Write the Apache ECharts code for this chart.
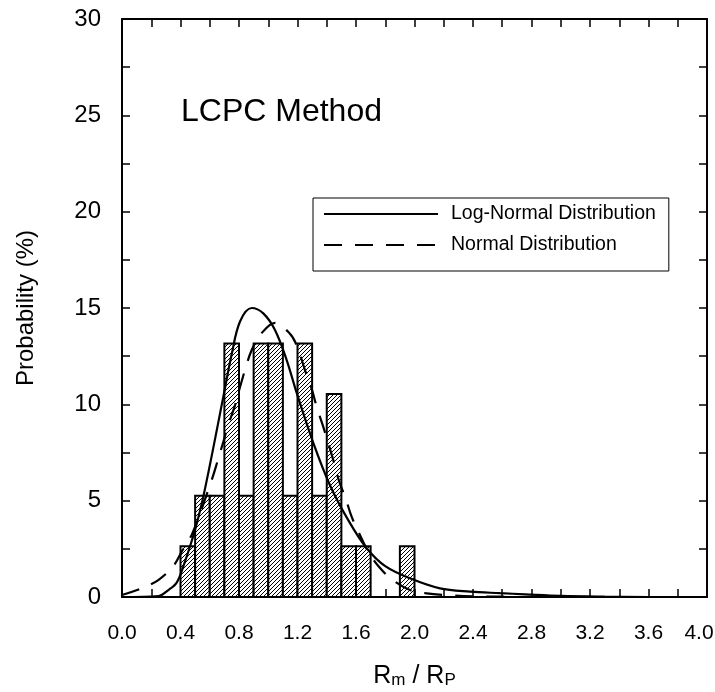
<!DOCTYPE html>
<html><head><meta charset="utf-8">
<script src="https://cdn.jsdelivr.net/npm/echarts@6/dist/echarts.min.js"></script>
<style>html,body{margin:0;padding:0;background:#fff}#c{width:715px;height:692px}</style>
</head><body><div id="c"></div>
<script>
// Histogram bins (left edges, width 0.1) and probabilities (%)
const binStarts = [0.4, 0.5, 0.6, 0.7, 0.8, 0.9, 1.0, 1.1, 1.2, 1.3, 1.4, 1.5, 1.6, 1.9];
const binWidth = 0.1;
const binProb = [2.63, 5.26, 5.26, 13.16, 5.26, 13.16, 13.16, 5.26, 13.16, 5.26, 10.53, 2.63, 2.63, 2.63];

// Log-normal curve
const logNormalX = [0, 0.25, 0.317, 0.374, 0.42, 0.5, 0.567, 0.693, 0.75, 0.807, 0.887, 0.966, 1.046, 1.126, 1.194, 1.308, 1.422, 1.55, 1.673, 1.8, 1.969, 2.174, 2.38, 2.585, 2.756, 3.0, 3.3, 3.6];
const logNormalY = [0, 0.05, 0.36, 0.75, 1.6, 3.5, 5.6, 10.4, 12.6, 14.3, 15.0, 14.72, 13.86, 12.3, 10.6, 8.0, 5.8, 3.95, 2.53, 1.6, 0.97, 0.45, 0.28, 0.2, 0.14, 0.06, 0.02, 0];

// Normal curve
const normalX = [0.0, 0.134, 0.248, 0.351, 0.408, 0.481, 0.613, 0.652, 0.693, 0.727, 0.773, 0.807, 0.841, 0.887, 0.955, 1.046, 1.144, 1.194, 1.251, 1.296, 1.331, 1.372, 1.411, 1.45, 1.486, 1.529, 1.57, 1.627, 1.684, 1.76, 1.844, 1.969, 2.083, 2.22, 2.4, 2.7];
const normalY = [0.1, 0.45, 0.88, 1.61, 2.35, 3.3, 6.07, 7.02, 8.06, 8.93, 9.96, 10.9, 11.78, 12.82, 13.7, 14.23, 13.7, 13.08, 11.78, 10.83, 9.88, 8.93, 7.97, 6.97, 5.98, 5.12, 4.17, 3.22, 2.35, 1.54, 0.92, 0.36, 0.19, 0.1, 0.04, 0.01];

const xMin = 0, xMax = 4, xInterval = 0.4;
const yMin = 0, yMax = 30, yInterval = 5;

const seriesNames = ['Log-Normal Distribution', 'Normal Distribution'];
const titleText = 'LCPC Method';

function hatchCanvas() {
  const c = document.createElement('canvas');
  c.width = 4; c.height = 4;
  const g = c.getContext('2d');
  g.fillStyle = '#fff'; g.fillRect(0, 0, 4, 4);
  g.strokeStyle = '#000'; g.lineWidth = 1;
  g.beginPath();
  g.moveTo(-1, 5); g.lineTo(5, -1);
  g.moveTo(-1, 1); g.lineTo(1, -1);
  g.moveTo(3, 5); g.lineTo(5, 3);
  g.stroke();
  return c;
}
const hatch = hatchCanvas();

const FONT = 'Liberation Sans, Arial, sans-serif';
const chart = echarts.init(document.getElementById('c'), null, {renderer: 'canvas'});

function axisCommon(showLabel) {
  return {
    axisLine: {show: true, onZero: false, lineStyle: {color: '#000', width: 2}},
    axisTick: {show: true, inside: true, length: 8, lineStyle: {color: '#000', width: 1.5}},
    minorTick: {show: true, splitNumber: 2, length: 8, lineStyle: {color: '#000', width: 1.5}},
    splitLine: {show: false},
    axisLabel: {show: showLabel, color: '#000', fontFamily: FONT}
  };
}

const xBottom = Object.assign(axisCommon(true), {
  type: 'value', position: 'bottom', min: xMin, max: xMax, interval: xInterval,
  name: '{r|R}{s|m}{r| / R}{s|P}', nameLocation: 'middle', nameGap: 56,
  nameTextStyle: {
    rich: {
      r: {fontSize: 25, fontFamily: FONT, color: '#000', verticalAlign: 'bottom', lineHeight: 36},
      s: {fontSize: 17, fontFamily: FONT, color: '#000', verticalAlign: 'bottom', lineHeight: 18}
    }
  }
});
xBottom.axisLabel.fontSize = 21;
xBottom.axisLabel.margin = 26;
xBottom.axisLabel.formatter = v => (Math.abs(v - xMax) < 1e-9 ? '{last|' + v.toFixed(1) + '}' : v.toFixed(1));
xBottom.axisLabel.rich = {last: {fontSize: 21, fontFamily: FONT, color: '#000', padding: [0, 16, 0, 0]}};

const xTop = Object.assign(axisCommon(false), {type: 'value', position: 'top', min: xMin, max: xMax, interval: xInterval});

const yLeft = Object.assign(axisCommon(true), {
  type: 'value', position: 'left', min: yMin, max: yMax, interval: yInterval,
  name: 'Probability (%)', nameLocation: 'middle', nameGap: 84,
  nameTextStyle: {fontSize: 24, fontFamily: FONT, color: '#000'}
});
yLeft.axisLabel.fontSize = 24;
yLeft.axisLabel.margin = 21;

const yRight = Object.assign(axisCommon(false), {type: 'value', position: 'right', min: yMin, max: yMax, interval: yInterval});

const barData = binStarts.map((s, i) => [s, s + binWidth, binProb[i]]);

chart.setOption({
  animation: false,
  backgroundColor: '#fff',
  title: {
    text: titleText, left: 181, top: 96, padding: 0,
    textStyle: {fontSize: 32, fontWeight: 'normal', fontFamily: FONT, color: '#000'}
  },
  grid: {left: 122, right: 8, top: 19, bottom: 95, containLabel: false, outerBoundsMode: 'none'},
  xAxis: [xBottom, xTop],
  yAxis: [yLeft, yRight],
  legend: {
    data: seriesNames, orient: 'vertical', left: 313, top: 198,
    backgroundColor: '#fff', borderColor: '#000', borderWidth: 1,
    padding: [6, 13, 16, 10], itemWidth: 114, itemHeight: 14, itemGap: 11,
    itemStyle: {opacity: 0},
    textStyle: {fontSize: 19.5, fontFamily: FONT, color: '#000', padding: [0, 0, 0, 8]}
  },
  series: [
    {
      type: 'custom', xAxisIndex: 0, yAxisIndex: 0, z: 2,
      data: barData,
      renderItem: function (params, api) {
        const p0 = api.coord([api.value(0), api.value(2)]);
        const p1 = api.coord([api.value(1), 0]);
        return {
          type: 'rect',
          shape: {x: p0[0], y: p0[1], width: p1[0] - p0[0], height: p1[1] - p0[1]},
          style: {fill: {image: hatch, repeat: 'repeat'}, stroke: '#000', lineWidth: 2}
        };
      }
    },
    {
      name: seriesNames[0], type: 'line', z: 5, symbol: 'none', smooth: 0.35,
      data: logNormalX.map((x, i) => [x, logNormalY[i]]),
      lineStyle: {color: '#000', width: 2.2, type: 'solid'},
      itemStyle: {color: '#000'}
    },
    {
      name: seriesNames[1], type: 'line', z: 5, symbol: 'none', smooth: 0.35,
      data: normalX.map((x, i) => [x, normalY[i]]),
      lineStyle: {color: '#000', width: 2.2, type: [18, 13]},
      itemStyle: {color: '#000'}
    }
  ]
});
</script>
</body></html>
